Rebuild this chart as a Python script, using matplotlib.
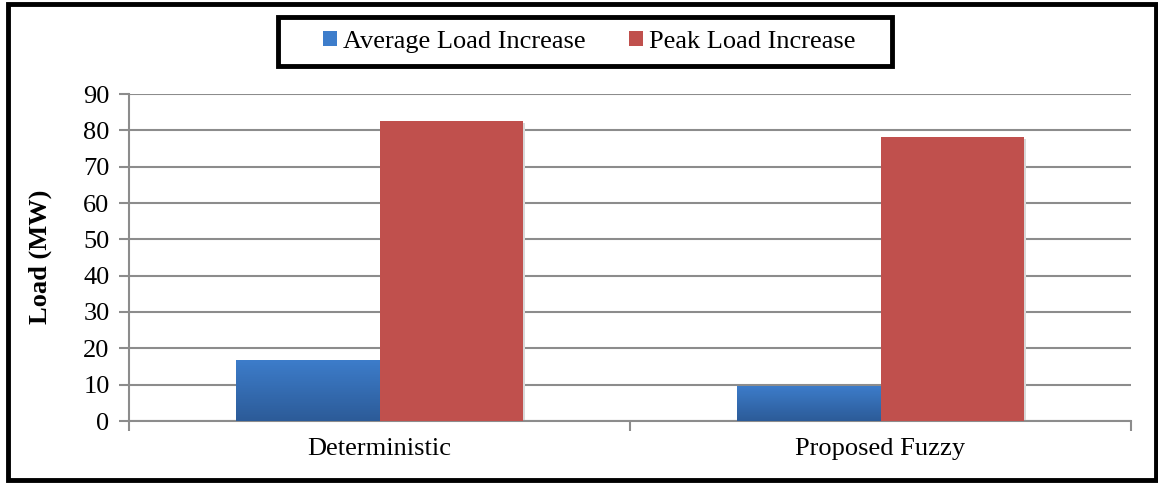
import numpy as np
import matplotlib
matplotlib.use("Agg")
import matplotlib.pyplot as plt
from matplotlib.patches import Rectangle
from matplotlib.colors import LinearSegmentedColormap

categories = ["Deterministic", "Proposed Fuzzy"]
series_names = ["Average Load Increase", "Peak Load Increase"]
average_load = [16.8, 9.7]
peak_load = [82.6, 78.3]
y_ticks = [0, 10, 20, 30, 40, 50, 60, 70, 80, 90]

plt.rcParams["font.family"] = ["Liberation Serif", "DejaVu Serif"]

W, H = 1158, 483
FS = 19
fig = plt.figure(figsize=(W / 100, H / 100), dpi=100)
ax = fig.add_axes([129 / W, 1 - 421 / H, (1131 - 129) / W, (421 - 94) / H])

blue_top, blue_bottom = "#3d7dcb", "#2c5b98"
red = "#c0504d"
grid_c = "#8c8c8c"

x = np.arange(len(categories))
bw = 0.287

blue_bars = ax.bar(x - bw / 2, average_load, bw, color=blue_top, zorder=3,
                   linewidth=0)
red_bars = ax.bar(x + bw / 2, peak_load, bw, color=red, zorder=3, linewidth=0)

# vertical gradient fill on the blue bars
cmap = LinearSegmentedColormap.from_list("bl", [blue_bottom, blue_top])
grad = np.linspace(0, 1, 256).reshape(-1, 1)
for b in blue_bars:
    x0, y0 = b.get_x(), b.get_y()
    w, h = b.get_width(), b.get_height()
    im = ax.imshow(grad, cmap=cmap, origin="lower", aspect="auto",
                   extent=[x0, x0 + w, y0, y0 + h], zorder=3.5)
    im.set_clip_path(b)

# soft shadows to the right of bars
for bars in (blue_bars, red_bars):
    for b in bars:
        ax.add_patch(Rectangle((b.get_x() + 0.004, 0), b.get_width(),
                               b.get_height() - 0.6, color="#d8d8d8",
                               zorder=2.5, linewidth=0))

ax.set_xlim(-0.5, 1.5)
ax.set_ylim(0, 90)
ax.set_yticks(y_ticks)
ax.set_yticklabels([str(v) for v in y_ticks], fontsize=FS)
ax.yaxis.grid(True, color=grid_c, linewidth=1.5, zorder=1)
ax.set_axisbelow(True)

ax.set_xticks([-0.5, 0.5, 1.5], minor=False)
ax.set_xticklabels([])
ax.tick_params(axis="x", direction="out", length=7, width=1.5, color=grid_c)
ax.tick_params(axis="y", direction="out", length=7, width=1.5, color=grid_c,
               pad=7)
for i, c in enumerate(categories):
    ax.text(i, -4.6, c, ha="center", va="top", fontsize=FS,
            transform=ax.transData)

for s in ("top", "right"):
    ax.spines[s].set_visible(False)
for s in ("left", "bottom"):
    ax.spines[s].set_color(grid_c)
    ax.spines[s].set_linewidth(1.5)

fig.text(40 / W, 1 - 257 / H, "Load (MW)", rotation=90, ha="center",
         va="center", fontsize=FS, fontweight="bold")

# legend entries without frame; the box is drawn separately
leg = fig.legend([blue_bars, red_bars], series_names, loc="center",
                 bbox_to_anchor=(589 / W, 1 - 42 / H), ncol=2, fontsize=FS,
                 frameon=False, handlelength=0.53, handleheight=0.53,
                 handletextpad=0.23, columnspacing=1.63, borderpad=0.2,
                 borderaxespad=0)
fig.add_artist(Rectangle((278 / W, 1 - 66 / H), (892 - 278) / W, 49 / H,
                         transform=fig.transFigure, fill=False,
                         edgecolor="black", linewidth=3.5))

# outer frame of the figure
fig.add_artist(Rectangle((8 / W, 3 / H), 1148 / W, 476 / H,
                         transform=fig.transFigure, fill=False,
                         edgecolor="black", linewidth=3.5))

fig.savefig("out.png", dpi=100, facecolor="white")
